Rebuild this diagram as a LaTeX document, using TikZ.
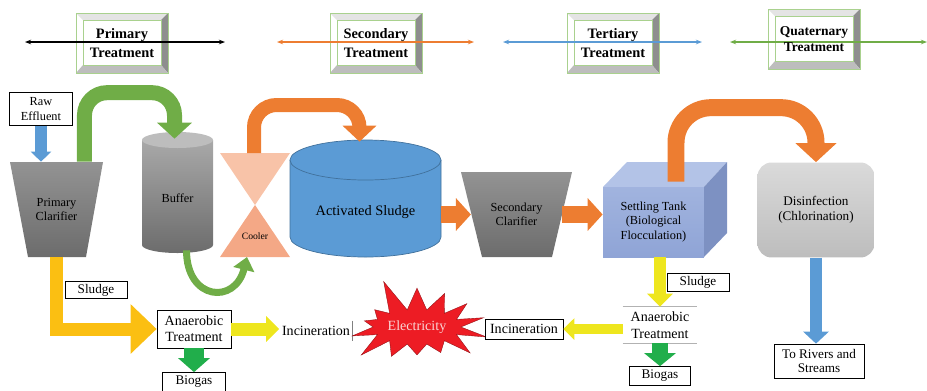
\documentclass[tikz,border=0pt]{standalone}
\usepackage{fontspec}
\setmainfont{Liberation Serif}
\usetikzlibrary{arrows.meta,shapes.symbols}
\definecolor{Frame}{HTML}{A9D18E}
\definecolor{BevR}{HTML}{8E8E8E}
\definecolor{BevB}{HTML}{BDBDBD}
\definecolor{BevT}{HTML}{E4E4E4}
\definecolor{Orng}{HTML}{ED7D31}
\definecolor{Leaf}{HTML}{70AD47}
\definecolor{Sky}{HTML}{5B9BD5}
\definecolor{SkyD}{HTML}{41719C}
\definecolor{Gold}{HTML}{FBBF12}
\definecolor{Lemon}{HTML}{EEE61E}
\definecolor{Moss}{HTML}{21AE4B}
\definecolor{Peach}{HTML}{F8C3A8}
\definecolor{Salmon}{HTML}{F4A886}
\definecolor{Lilac}{HTML}{8FA4D6}
\definecolor{LilacT}{HTML}{B3C3E7}
\definecolor{LilacR}{HTML}{7D91C2}
\definecolor{Fire}{HTML}{ED1C24}
\definecolor{Blush}{HTML}{FAD4D4}
\definecolor{Steel}{HTML}{939393}
\definecolor{Slate}{HTML}{6C6C6C}
\definecolor{Pearl}{HTML}{DADADA}
\definecolor{Ash}{HTML}{BDBDBD}

\begin{document}
\begin{tikzpicture}[x=0.02cm,y=-0.02cm,
 lbl/.style={draw,thin,fill=white,align=center,inner sep=1pt,font=\fontsize{7.5}{8.5}\selectfont},
 txt/.style={align=center,text=black,font=\fontsize{7}{8}\selectfont},
 blk/.style n args={3}{line width=#1,-{Triangle[width=#2,length=#3]}}]
\useasboundingbox (0,0) rectangle (927,390);
% treatment stages
\foreach \x/\y/\stg/\c/\l/\r/\fs/\bs in {122/43/Primary/black/25/225/8.2/11,376/43/Secondary/Orng/277/474/8.2/11,613/43/Tertiary/Sky/503/702/8.2/11,814/39/Quaternary/Leaf/730/927/7.7/9}{
 \fill[white] (\x-46,\y-30) rectangle (\x+46,\y+30);
 \fill[BevT] (\x-46,\y-30) -- (\x+46,\y-30) -- (\x+39,\y-23) -- (\x-39,\y-23) -- cycle;
 \fill[BevR] (\x+46,\y-30) -- (\x+46,\y+30) -- (\x+39,\y+22) -- (\x+39,\y-23) -- cycle;
 \fill[BevB] (\x-46,\y+30) -- (\x+46,\y+30) -- (\x+39,\y+22) -- (\x-39,\y+22) -- cycle;
 \draw[Frame,fill=white] (\x-39,\y-23) rectangle (\x+39,\y+22);
 \draw[Frame] (\x-46,\y-30) rectangle (\x+46,\y+30);
 \draw[{Stealth[length=3.5pt]}-{Stealth[length=3.5pt]},\c,line width=0.035cm] (\l,42) -- (\r,42);
 \node[align=center,font=\bfseries\fontsize{\fs}{\bs}\selectfont] (\stg) at (\x,\y) {\stg\\Treatment};
}
% process units
\node[lbl,minimum width=1.26cm,minimum height=0.66cm,font=\fontsize{7}{8.5}\selectfont] (raw) at (41,109) {Raw\\Effluent};
\shade[top color=Steel,bottom color=Slate] (10,162) -- (103,162) -- (86,257) -- (28,257) -- cycle;
\node[txt,minimum width=1.86cm,minimum height=1.9cm] (pclar) at (56.5,209.5) {Primary\\Clarifier};
\shade[top color=Steel!80!white,bottom color=Slate] (142,140) -- (142,245) arc[start angle=180,end angle=0,x radius=35.5,y radius=8] -- (213,140) -- cycle;
\fill[Ash] (177.5,140) ellipse [x radius=35.5,y radius=8];
\node[txt,minimum width=1.42cm,minimum height=2.42cm,text height=0.38cm,text depth=0pt] (buffer) at (177.5,192.5) {Buffer};
\fill[Peach] (220,153) -- (290,153) -- (255,205) -- cycle;
\fill[Salmon] (255,205) -- (290,257) -- (220,257) -- cycle;
\node[font=\fontsize{5.5}{6}\selectfont] (cooler) at (255,236) {Cooler};
\coordinate (coolout) at (254,153);
\coordinate (coolin) at (247,257);
\filldraw[fill=Sky,draw=SkyD] (290,160) -- (290,237) arc[start angle=180,end angle=0,x radius=75.5,y radius=20] -- (441,160);
\filldraw[fill=Sky,draw=SkyD] (365.5,160) ellipse [x radius=75.5,y radius=20];
\node[minimum width=3.02cm,minimum height=2.36cm,text height=0.64cm,text depth=0pt,font=\fontsize{8.2}{9}\selectfont] (as) at (365.5,199) {Activated Sludge};
\shade[top color=Steel,bottom color=Slate] (461,172) -- (572,172) -- (552,257) -- (482,257) -- cycle;
\node[txt,minimum width=1.81cm,minimum height=1.7cm] (sc) at (516.5,214.5) {Secondary\\Clarifier};
\fill[LilacT] (603,187) -- (627,162) -- (727,162) -- (704,187) -- cycle;
\fill[LilacR] (704,187) -- (727,162) -- (727,233) -- (704,257) -- cycle;
\node[top color=LilacT!50!Lilac,bottom color=Lilac,minimum width=2.02cm,minimum height=1.4cm,txt] (settle) at (653.5,222) {Settling Tank\\(Biological\\Flocculation)};
\node[rounded corners=0.28cm,minimum width=2.34cm,minimum height=1.9cm,top color=Pearl,bottom color=Ash,align=center,font=\fontsize{7.5}{8.8}\selectfont] (dis) at (816,210) {Disinfection\\(Chlorination)};
% sludge line
\node[lbl,minimum width=1.24cm,minimum height=0.34cm] (sludgeL) at (96,290) {Sludge};
\node[lbl,minimum width=1.48cm,minimum height=0.76cm,font=\fontsize{8}{9}\selectfont] (anaL) at (194,329) {Anaerobic\\Treatment};
\node[lbl,minimum width=1.26cm,minimum height=0.38cm] (biogasL) at (194,382) {Biogas};
\node[minimum width=1.46cm,minimum height=0.4cm,inner sep=1pt,font=\fontsize{8}{9}\selectfont] (incL) at (316,331) {Incineration};
\draw[gray] (incL.north east) -- (incL.south east);
\node[starburst,starburst points=14,starburst point height=0.7cm,random starburst=5,fill=Fire,draw=Fire!60!black,very thin,text=Blush,minimum width=2.2cm,minimum height=2.1cm,inner sep=1pt,font=\fontsize{8}{9}\selectfont] (elec) at (417,327) {Electricity};
\node[lbl,minimum width=1.24cm,minimum height=0.36cm] (sludgeR) at (698,282) {Sludge};
\node[minimum width=1.48cm,minimum height=0.72cm,inner sep=1pt,align=center,font=\fontsize{8}{9.6}\selectfont] (anaR) at (660,325) {Anaerobic\\Treatment};
\draw[gray!60] (anaR.north west) -- (anaR.north east) (anaR.south west) -- (anaR.south east);
\node[lbl,minimum width=1.56cm,minimum height=0.4cm,font=\fontsize{8}{9}\selectfont] (incR) at (524,329) {Incineration};
\node[lbl,minimum width=1.22cm,minimum height=0.38cm] (biogasR) at (660,376) {Biogas};
\node[lbl,minimum width=1.8cm,minimum height=0.68cm] (rivers) at (819,361) {To Rivers and\\Streams};
% flows
\draw[blk={0.24cm}{0.4cm}{0.2cm},Sky] (raw.south) -- (raw.south |- pclar.north);
\draw[blk={0.3cm}{0.68cm}{0.32cm},Leaf,rounded corners=0.45cm] ([xshift=0.56cm]pclar.north) -- ++(0,-69) -| ([xshift=-0.06cm,yshift=-0.14cm]buffer.north);
\draw[blk={0.28cm}{0.66cm}{0.32cm},Orng,rounded corners=0.45cm] (coolout) -- ++(0,-48) -| ([xshift=-0.12cm,yshift=-0.04cm]as.north);
\draw[blk={0.14cm}{0.42cm}{0.26cm},Leaf] ([xshift=0.18cm,yshift=0.06cm]buffer.south) .. controls +(0,50) and +(-12,48) .. (coolin);
\draw[blk={0.34cm}{0.64cm}{0.3cm},Orng] (as.east |- sc.center) -- (sc.west);
\draw[blk={0.34cm}{0.64cm}{0.3cm},Orng] (sc.east) -- (sc.east -| settle.west);
\draw[blk={0.34cm}{0.8cm}{0.38cm},Orng,rounded corners=0.7cm] ([xshift=0.45cm,yshift=0.1cm]settle.north) -- ++(0,-74) -| (dis.north);
\draw[blk={0.24cm}{0.5cm}{0.24cm},Sky] (dis.south) -- (dis.south |- rivers.north);
\draw[blk={0.26cm}{0.96cm}{0.52cm},Gold] (pclar.south) |- (anaL.west);
\draw[blk={0.26cm}{0.5cm}{0.26cm},Lemon] (anaL.east) -- (anaL.east -| incL.west);
\draw[blk={0.4cm}{0.62cm}{0.28cm},Moss] (anaL.south) -- (biogasL.north);
\draw[blk={0.24cm}{0.5cm}{0.26cm},Lemon] (anaR.north |- settle.south) -- (anaR.north);
\draw[blk={0.2cm}{0.42cm}{0.22cm},Lemon] (anaR.west |- incR.east) -- (incR.east);
\draw[blk={0.32cm}{0.62cm}{0.26cm},Moss] (anaR.south) -- (biogasR.north);
\end{tikzpicture}
\end{document}
